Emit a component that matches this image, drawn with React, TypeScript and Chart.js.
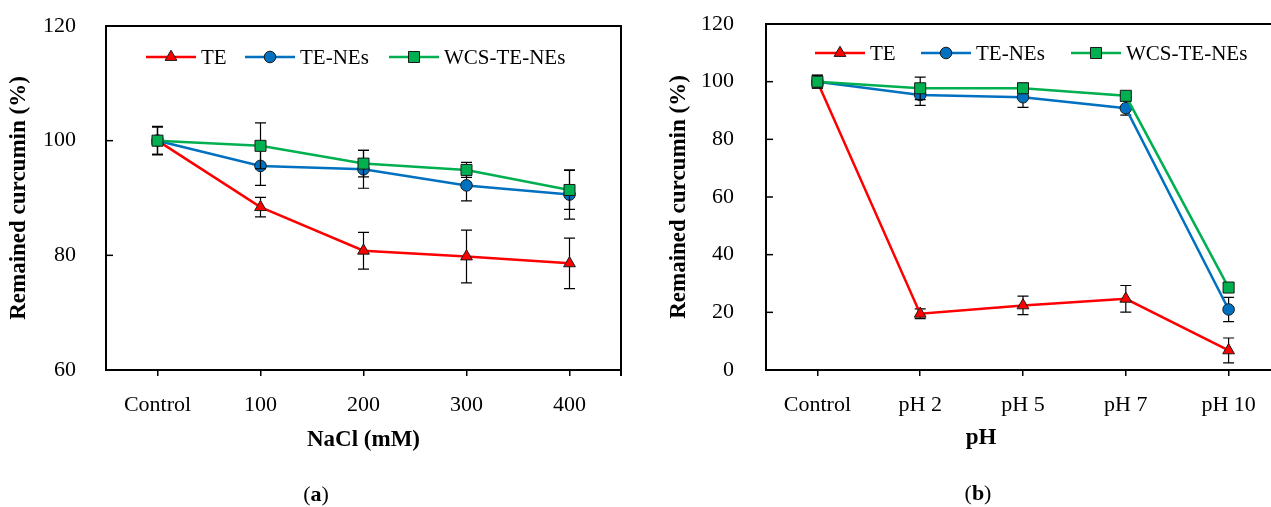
import React, { useEffect, useRef } from "react";
import { Chart, registerables } from "chart.js";

Chart.register(...registerables);

const FONT_FAMILY = "'Liberation Serif', 'Times New Roman', serif";
const RED = "#FF0000";
const BLUE = "#0070C0";
const GREEN = "#00B050";

const seriesNames = ["TE", "TE-NEs", "WCS-TE-NEs"];

// Panel (a): NaCl
const saltCategories = ["Control", "100", "200", "300", "400"];
const saltTE = [100, 88.4, 80.8, 79.8, 78.6];
const saltTEErr = [2.4, 1.7, 3.2, 4.6, 4.4];
const saltNE = [100, 95.6, 95.0, 92.2, 90.6];
const saltNEErr = [2.4, 3.4, 3.3, 2.7, 4.3];
const saltWCS = [100, 99.1, 96.0, 94.9, 91.4];
const saltWCSErr = [2.5, 4.0, 2.3, 1.3, 3.4];
const saltYMin = 60;
const saltYMax = 120;

// Panel (b): pH
const phCategories = ["Control", "pH 2", "pH 5", "pH 7", "pH 10"];
const phTE = [100, 19.5, 22.4, 24.7, 6.8];
const phTEErr = [2.2, 1.7, 3.2, 4.6, 4.3];
const phNE = [100, 95.4, 94.6, 90.8, 21.0];
const phNEErr = [2.2, 3.6, 3.5, 2.4, 4.2];
const phWCS = [100, 97.7, 97.7, 95.1, 28.6];
const phWCSErr = [2.2, 3.9, 1.8, 1.0, 1.0];
const phYMin = 0;
const phYMax = 120;

const yStep = 20;
const yTitle = "Remained curcumin (%)";

function drawMarker(ctx: CanvasRenderingContext2D, style: string, x: number, y: number, r: number) {
  ctx.beginPath();
  if (style === "circle") {
    ctx.arc(x, y, r, 0, Math.PI * 2);
  } else if (style === "rect") {
    const s = r * Math.SQRT1_2;
    ctx.rect(x - s, y - s, 2 * s, 2 * s);
  } else {
    const w = (r * Math.sqrt(3)) / 2;
    ctx.moveTo(x, y - r);
    ctx.lineTo(x + w, y + r / 2);
    ctx.lineTo(x - w, y + r / 2);
    ctx.closePath();
  }
  ctx.fill();
  ctx.stroke();
}

const errorBarPlugin = {
  id: "errorBars",
  beforeDatasetDraw(chart: any, args: any, opts: any) {
    const errs = opts.errors ? opts.errors[args.index] : null;
    if (!errs) return;
    const ds = chart.data.datasets[args.index];
    const yScale = chart.scales.y;
    const ctx = chart.ctx;
    ctx.save();
    ctx.strokeStyle = "#000";
    ctx.lineWidth = 1.2;
    args.meta.data.forEach((pt: any, i: number) => {
      const v = ds.data[i];
      const e = errs[i];
      if (v == null || !e) return;
      const x = pt.x;
      const y1 = yScale.getPixelForValue(v + e);
      const y2 = yScale.getPixelForValue(v - e);
      ctx.beginPath();
      ctx.moveTo(x, y1);
      ctx.lineTo(x, y2);
      ctx.moveTo(x - 5.5, y1);
      ctx.lineTo(x + 5.5, y1);
      ctx.moveTo(x - 5.5, y2);
      ctx.lineTo(x + 5.5, y2);
      ctx.stroke();
    });
    ctx.restore();
  },
};

const framePlugin = {
  id: "frame",
  beforeDatasetsDraw(chart: any, _args: any, opts: any) {
    const { ctx, chartArea } = chart;
    const { left, top, right, bottom } = chartArea;
    ctx.save();
    ctx.strokeStyle = "#000";
    ctx.lineWidth = 2;
    ctx.strokeRect(left, top, right - left, bottom - top);
    if (opts.rightTick) {
      ctx.beginPath();
      ctx.moveTo(right, bottom);
      ctx.lineTo(right, bottom + 6);
      ctx.stroke();
    }
    ctx.lineWidth = 1.5;
    const yScale = chart.scales.y;
    yScale.ticks.forEach((t: any) => {
      const py = yScale.getPixelForValue(t.value);
      ctx.beginPath();
      ctx.moveTo(left, py);
      ctx.lineTo(left + 7, py);
      ctx.stroke();
    });
    ctx.restore();
  },
};

const legendPlugin = {
  id: "lineLegend",
  afterDatasetsDraw(chart: any, _args: any, opts: any) {
    const { ctx, chartArea } = chart;
    const y = opts.y;
    ctx.save();
    chart.data.datasets.forEach((ds: any, i: number) => {
      const x0 = chartArea.left + opts.offsets[i];
      ctx.strokeStyle = ds.borderColor;
      ctx.lineWidth = 2.5;
      ctx.beginPath();
      ctx.moveTo(x0, y);
      ctx.lineTo(x0 + 50, y);
      ctx.stroke();
      ctx.fillStyle = ds.pointBackgroundColor;
      ctx.strokeStyle = ds.pointBorderColor;
      ctx.lineWidth = 1;
      drawMarker(ctx, ds.pointStyle, x0 + 25, y, ds.pointRadius);
      ctx.fillStyle = "#000";
      ctx.font = `21px ${FONT_FAMILY}`;
      ctx.textAlign = "left";
      ctx.textBaseline = "middle";
      ctx.fillText(ds.label, x0 + 55, y + 1);
    });
    ctx.restore();
  },
};

const captionPlugin = {
  id: "captions",
  afterDraw(chart: any, _args: any, opts: any) {
    const ctx = chart.ctx;
    ctx.save();
    ctx.fillStyle = "#000";
    ctx.textBaseline = "middle";
    ctx.textAlign = "left";
    (opts.items || []).forEach((item: any) => {
      const fonts = item.parts.map((p: any) => `${p.bold ? "bold " : ""}${item.size}px ${FONT_FAMILY}`);
      let total = 0;
      const widths = item.parts.map((p: any, i: number) => {
        ctx.font = fonts[i];
        const w = ctx.measureText(p.text).width;
        total += w;
        return w;
      });
      let x = item.x - total / 2;
      item.parts.forEach((p: any, i: number) => {
        ctx.font = fonts[i];
        ctx.fillText(p.text, x, item.y);
        x += widths[i];
      });
    });
    ctx.restore();
  },
};

function dataset(label: string, data: number[], color: string, style: string, radius: number, order: number) {
  return {
    label,
    data,
    borderColor: color,
    backgroundColor: color,
    borderWidth: 2.5,
    pointStyle: style,
    pointRadius: radius,
    pointHoverRadius: radius,
    pointBackgroundColor: color,
    pointBorderColor: "#1a1a1a",
    pointBorderWidth: 1,
    tension: 0,
    order,
  };
}

function buildConfig(p: any) {
  const tickFont = { family: FONT_FAMILY, size: 22 };
  const titleFont = { family: FONT_FAMILY, size: 23, weight: "bold" };
  return {
    type: "line",
    data: {
      labels: p.labels,
      datasets: [
        dataset(seriesNames[0], p.te, RED, "triangle", 6.8, 3),
        dataset(seriesNames[1], p.ne, BLUE, "circle", 5.8, 2),
        dataset(seriesNames[2], p.wcs, GREEN, "rect", 7.8, 1),
      ],
    },
    options: {
      responsive: false,
      animation: false,
      events: [],
      layout: { padding: { left: 0, top: p.top, right: p.right, bottom: 0 } },
      plugins: {
        legend: { display: false },
        tooltip: { enabled: false },
        errorBars: { errors: p.errors },
        frame: { rightTick: p.rightTick },
        lineLegend: { y: p.legendY, offsets: p.legendOffsets },
        captions: { items: p.captions },
      },
      scales: {
        x: {
          type: "category",
          offset: true,
          grid: {
            display: true,
            drawOnChartArea: false,
            drawTicks: true,
            tickLength: 6,
            color: "#000",
            lineWidth: 1.5,
          },
          border: { display: false },
          ticks: { font: tickFont, color: "#000", padding: 16, maxRotation: 0, autoSkip: false },
          title: p.xTitle
            ? { display: true, text: p.xTitle, font: titleFont, color: "#000", padding: { top: 0, bottom: 53 } }
            : { display: false },
          afterFit: (s: any) => {
            s.height = 137;
          },
        },
        y: {
          min: p.yMin,
          max: p.yMax,
          ticks: { stepSize: yStep, font: tickFont, color: "#000", padding: 2 },
          grid: { display: false, drawTicks: true, tickLength: p.yGap - 2 },
          border: { display: false },
          title: {
            display: true,
            text: yTitle,
            font: titleFont,
            color: "#000",
            padding: { top: p.yTitlePad, bottom: 0 },
          },
          afterFit: (s: any) => {
            s.width = p.yWidth;
          },
        },
      },
    },
    plugins: [errorBarPlugin, framePlugin, legendPlugin, captionPlugin],
  };
}

const configA = () =>
  buildConfig({
    labels: saltCategories,
    te: saltTE,
    ne: saltNE,
    wcs: saltWCS,
    errors: [saltTEErr, saltNEErr, saltWCSErr],
    yMin: saltYMin,
    yMax: saltYMax,
    top: 26,
    right: 19,
    yWidth: 106,
    yGap: 30,
    yTitlePad: 5,
    rightTick: true,
    xTitle: "NaCl (mM)",
    legendY: 57,
    legendOffsets: [40, 139, 283],
    captions: [
      { x: 316, y: 495, size: 22, parts: [{ text: "(" }, { text: "a", bold: true }, { text: ")" }] },
    ],
  });

const configB = () =>
  buildConfig({
    labels: phCategories,
    te: phTE,
    ne: phNE,
    wcs: phWCS,
    errors: [phTEErr, phNEErr, phWCSErr],
    yMin: phYMin,
    yMax: phYMax,
    top: 24,
    right: 20,
    yWidth: 126,
    yGap: 32,
    yTitlePad: 25,
    rightTick: false,
    xTitle: null,
    legendY: 53,
    legendOffsets: [49, 155, 305],
    captions: [
      { x: 341, y: 438, size: 23, parts: [{ text: "pH", bold: true }] },
      { x: 338, y: 494, size: 22, parts: [{ text: "(" }, { text: "b", bold: true }, { text: ")" }] },
    ],
  });

function Panel({ makeConfig, left, width }: { makeConfig: () => any; left: number; width: number }) {
  const ref = useRef<HTMLCanvasElement | null>(null);
  useEffect(() => {
    if (!ref.current) return;
    const chart = new Chart(ref.current, makeConfig());
    return () => chart.destroy();
  }, [makeConfig]);
  return (
    <canvas
      ref={ref}
      width={width}
      height={507}
      style={{ position: "absolute", left, top: 0, width, height: 507, display: "block" }}
    />
  );
}

export default function App() {
  return (
    <div
      style={{
        position: "fixed",
        left: 0,
        top: 0,
        width: 1271,
        height: 507,
        overflow: "hidden",
        background: "#fff",
      }}
    >
      <Panel makeConfig={configA} left={0} width={640} />
      <Panel makeConfig={configB} left={640} width={660} />
    </div>
  );
}
